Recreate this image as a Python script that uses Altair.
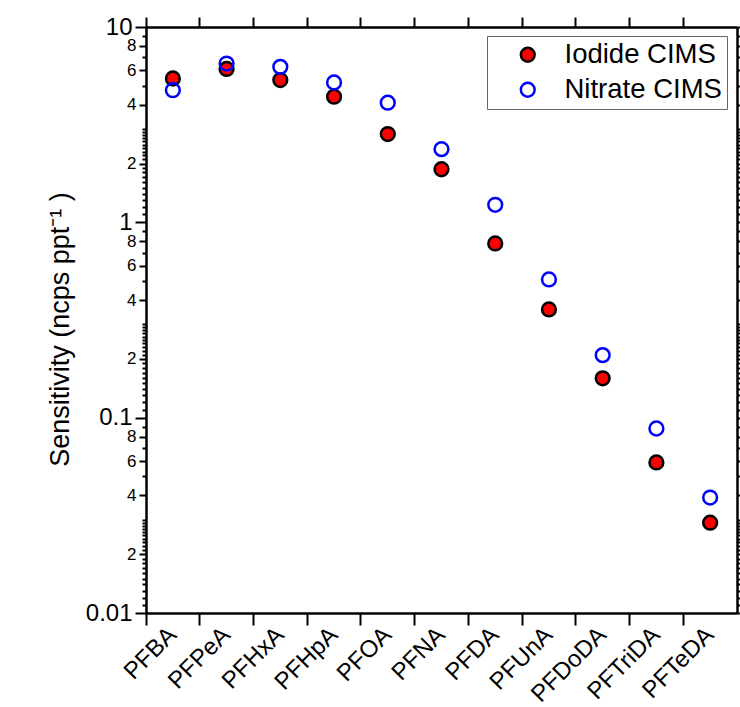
import altair as alt
import pandas as pd

compounds = ["PFBA", "PFPeA", "PFHxA", "PFHpA", "PFOA", "PFNA", "PFDA",
             "PFUnA", "PFDoDA", "PFTriDA", "PFTeDA"]
iodide = [5.45, 6.1, 5.35, 4.4, 2.83, 1.87, 0.78, 0.358, 0.159, 0.059, 0.029]
nitrate = [4.75, 6.5, 6.25, 5.2, 4.1, 2.37, 1.23, 0.51, 0.209, 0.088, 0.039]
series_names = ["Iodide CIMS", "Nitrate CIMS"]

# y tick values (log axis, Igor-style)
decades = [0.01, 0.1, 1, 10]
labeled_minor = [2, 4, 6, 8]
minor_only = [1.1, 1.2, 1.3, 1.4, 1.5, 1.6, 1.7, 1.8, 1.9,
              2.1, 2.2, 2.3, 2.4, 2.5, 2.6, 2.7, 2.8, 2.9, 3, 5, 7, 9]
decade_labels = {0.01: "0.01", 0.1: "0.1", 1: "1", 10: "10"}

rows = []
for s, vals in zip(series_names, [iodide, nitrate]):
    for c, v in zip(compounds, vals):
        rows.append({"compound": c, "series": s, "value": v})
df = pd.DataFrame(rows)

tick_vals = []
labels = {}
for d in decades:
    tick_vals.append(d)
    labels[d] = decade_labels[d]
for d in decades[:-1]:
    for m in labeled_minor:
        v = round(m * d, 6)
        tick_vals.append(v)
        labels[v] = str(m)
    for m in minor_only:
        tick_vals.append(round(m * d, 6))
tick_vals = sorted(set(tick_vals))

label_expr = " : ".join(
    [f"datum.value == {k} ? '{v}'" for k, v in labels.items()]) + " : ''"
dec_list = "[" + ",".join(str(d) for d in decades) + "]"
lab_list = "[" + ",".join(str(k) for k in labels.keys()) + "]"
tick_size = {
    "condition": [
        {"test": f"indexof({dec_list}, datum.value) >= 0", "value": 11},
        {"test": f"indexof({lab_list}, datum.value) >= 0", "value": 7},
    ],
    "value": 4,
}
label_size = {
    "condition": {"test": f"indexof({dec_list}, datum.value) >= 0", "value": 24},
    "value": 17,
}

FONT = "Liberation Sans"
W, H = 591, 586

xscale = alt.Scale(type="band", domain=compounds, paddingInner=0, paddingOuter=0)
yscale = alt.Scale(type="log", domain=[0.01, 10], nice=False)

x_bottom = alt.Axis(orient="bottom", title=None, bandPosition=0,
                    labelAngle=-45, labelAlign="right", labelBaseline="middle",
                    labelFont=FONT, labelFontSize=24, labelColor="black",
                    labelPadding=6, labelOverlap=False, labelBound=False,
                    tickSize=12, tickWidth=2, tickColor="black",
                    domainWidth=2.5, domainColor="black", grid=False)
x_top = alt.Axis(orient="top", title=None, bandPosition=0, labels=False,
                 tickSize=10, tickWidth=2, tickColor="black",
                 domainWidth=2.5, domainColor="black", grid=False)
y_left = alt.Axis(orient="left", values=tick_vals, labelExpr=label_expr,
                  title="Sensitivity (ncps ppt⁻¹ )", titleFont=FONT, titleFontSize=27,
                  titleFontWeight="normal", titleColor="black", titlePadding=11,
                  titleY=302,
                  labelFont=FONT, labelFontSize=label_size, labelColor="black",
                  labelPadding=3, labelOverlap=False, labelBound=False,
                  tickSize=tick_size, tickWidth=2, tickColor="black",
                  domainWidth=2.5, domainColor="black", grid=False)
y_right = alt.Axis(orient="right", values=tick_vals, labels=False, title=None,
                   tickSize=tick_size, tickWidth=2, tickColor="black",
                   domainWidth=2.5, domainColor="black", grid=False)

legend = alt.Legend(title=None, orient="none", legendX=341, legendY=9,
                    labelFont=FONT, labelFontSize=27.5, labelColor="black",
                    labelLimit=400,
                    symbolSize=190, symbolStrokeWidth=2.5, symbolType="circle",
                    strokeColor="#666666", fillColor="white", padding=5,
                    rowPadding=6, labelOffset=23, symbolOffset=22)

points = alt.Chart(df).mark_point(shape="circle", filled=True, size=190,
                                  strokeWidth=2.5, opacity=1).encode(
    x=alt.X("compound:N", sort=compounds, scale=xscale, axis=x_bottom),
    y=alt.Y("value:Q", scale=yscale, axis=y_left),
    fill=alt.Fill("series:N", scale=alt.Scale(domain=series_names,
                                              range=["#ff0000", "transparent"]),
                  legend=legend),
    stroke=alt.Stroke("series:N", scale=alt.Scale(domain=series_names,
                                                  range=["#000000", "#0000ff"]),
                      legend=legend),
)

frame = alt.Chart(df).mark_point(opacity=0).encode(
    x=alt.X("compound:N", sort=compounds, scale=xscale, axis=x_top),
    y=alt.Y("value:Q", scale=yscale, axis=y_right),
)

chart = alt.layer(points, frame).resolve_axis(
    x="independent", y="independent"
).properties(
    width=W, height=H,
    autosize=alt.AutoSizeParams(type="none"),
    padding={"left": 146, "top": 27, "right": 3, "bottom": 94},
).configure_view(stroke=None).configure(background="white")

chart.save("out.html", embed_options={"renderer": "svg", "actions": False})
